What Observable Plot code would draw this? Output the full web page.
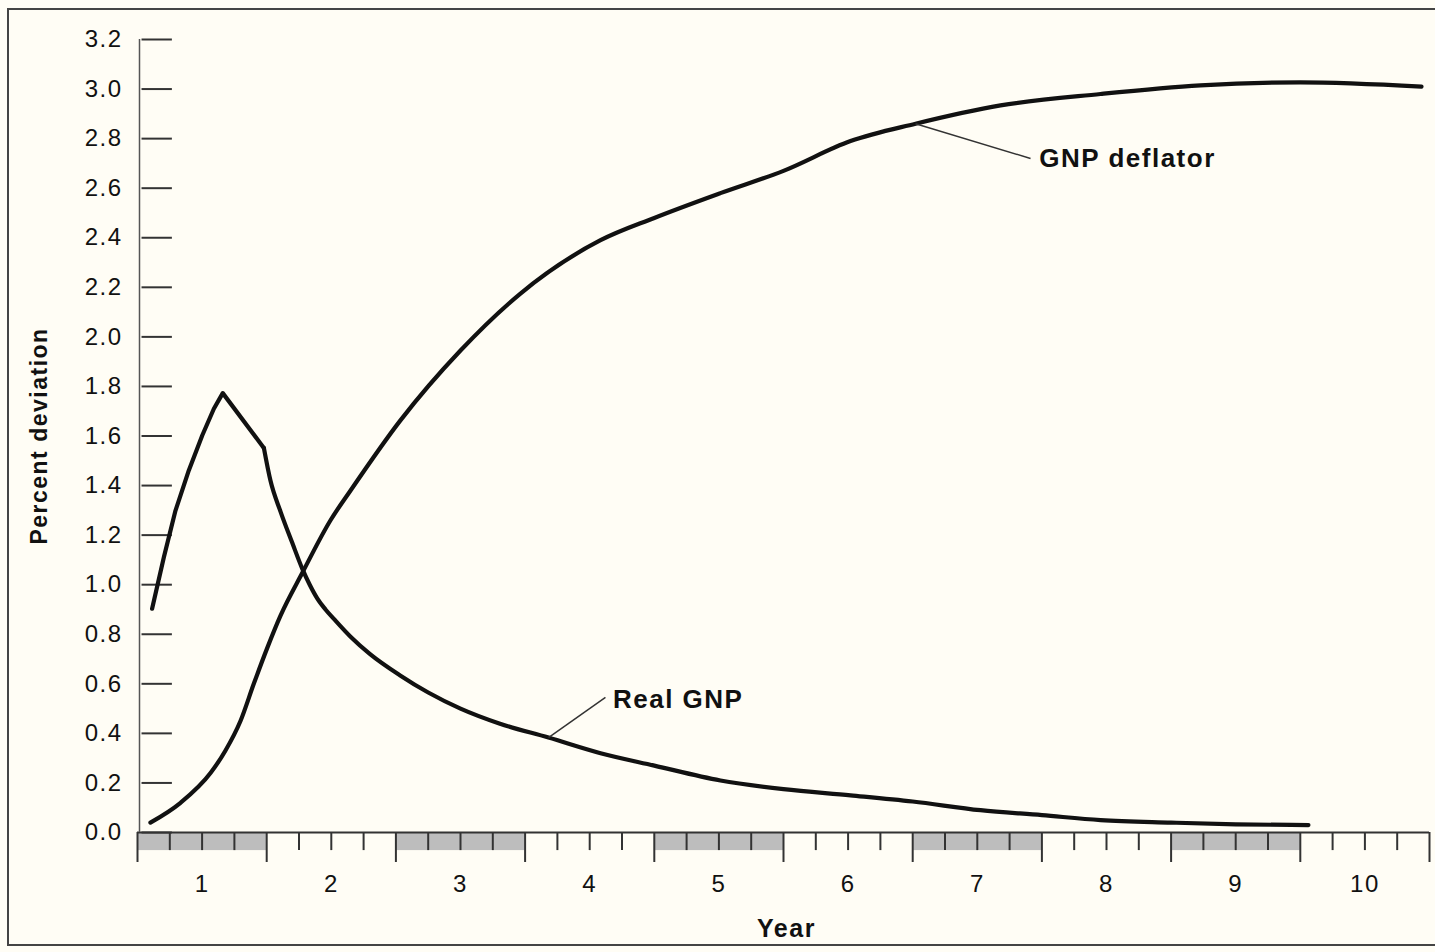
<!DOCTYPE html>
<html>
<head>
<meta charset="utf-8">
<script src="https://cdn.jsdelivr.net/npm/d3@7"></script>
<script src="https://cdn.jsdelivr.net/npm/@observablehq/plot@0.6"></script>
<style>
  html, body { margin: 0; padding: 0; background: #fffdf5; }
  #wrap { position: relative; width: 1435px; height: 952px; overflow: hidden; }
  #border { position: absolute; left: 7px; top: 8px; width: 1460px; height: 938px; border: 2px solid #444; box-sizing: border-box; pointer-events: none; }
</style>
</head>
<body>
<div id="wrap"><div id="border"></div></div>
<script>
// Years (x axis labels) and quarter ticks
const yearLabels = [1, 2, 3, 4, 5, 6, 7, 8, 9, 10];
const shadedYears = [1, 3, 5, 7, 9];
const yTicks = [0, 0.2, 0.4, 0.6, 0.8, 1.0, 1.2, 1.4, 1.6, 1.8, 2.0, 2.2, 2.4, 2.6, 2.8, 3.0, 3.2];

// Real GNP (x in years since shock, percent deviation)
// rising part up to the kink (drawn straight), then the smooth decay
const realRiseX = [0.113, 0.204, 0.294, 0.397, 0.501, 0.591, 0.66, 0.978];
const realRise = [0.903, 1.111, 1.299, 1.461, 1.602, 1.710, 1.773, 1.552];
const realFallX = [0.978, 1.029, 1.107, 1.197, 1.275, 1.333, 1.391, 1.455, 1.52, 1.649, 1.8, 2.03, 2.25, 2.5, 2.8, 3.181, 3.584, 4.0, 4.512, 5.0, 5.519, 6.0, 6.525, 7.0, 7.454, 8.0, 8.5, 9.063];
const realFall = [1.552, 1.42, 1.295, 1.17, 1.065, 1.0, 0.945, 0.9, 0.862, 0.79, 0.72, 0.635, 0.565, 0.50, 0.44, 0.383, 0.32, 0.27, 0.21, 0.175, 0.15, 0.125, 0.09, 0.07, 0.05, 0.04, 0.033, 0.03];

// GNP deflator
const deflX = [0.1, 0.333, 0.565, 0.68, 0.797, 0.9, 1.006, 1.107, 1.277, 1.494, 1.649, 2.035, 2.5, 2.964, 3.584, 4.0, 4.512, 5.0, 5.519, 6.022, 6.68, 7.454, 8.227, 9.0, 9.938];
const gnpDeflator = [0.04, 0.12, 0.24, 0.33, 0.45, 0.6, 0.747, 0.875, 1.049, 1.26, 1.38, 1.663, 1.945, 2.175, 2.39, 2.48, 2.58, 2.67, 2.79, 2.86, 2.934, 2.98, 3.015, 3.027, 3.01];

const riseData = realRiseX.map((x, i) => ({x, y: realRise[i]}));
const fallData = realFallX.map((x, i) => ({x, y: realFall[i]}));
const deflData = deflX.map((x, i) => ({x, y: gnpDeflator[i]}));
const quarterTicks = d3.range(0, 41).filter(q => q % 4 !== 0).map(q => q / 4);
const yearBounds = d3.range(0, 11);

const font = "'Liberation Sans', Arial, Helvetica, sans-serif";

const chart = Plot.plot({
  width: 1435,
  height: 952,
  marginLeft: 137,
  marginRight: 6,
  marginTop: 39,
  marginBottom: 120,
  x: {domain: [0, 10], axis: null},
  y: {domain: [0, 3.2], axis: null},
  style: {background: "transparent", fontFamily: font, color: "#111", letterSpacing: "1.5px", overflow: "visible"},
  marks: [
    // shaded bands for alternate years below axis
    Plot.rect(shadedYears, {x1: d => d - 1, x2: d => d, y1: 0, y2: -0.073, fill: "#bdbdbd"}),
    Plot.ruleX(quarterTicks, {y1: 0, y2: -0.073, stroke: "#333", strokeWidth: 2}),
    Plot.ruleX(yearBounds, {y1: 0, y2: -0.121, stroke: "#333", strokeWidth: 2}),
    Plot.ruleY([0], {x1: 0, x2: 10, stroke: "#333", strokeWidth: 2}),
    // y axis line and inward ticks
    Plot.ruleX([0], {y1: 0, y2: 3.2, stroke: "#555", strokeWidth: 1.5, dx: 2}),
    Plot.ruleY(yTicks, {x1: 0.035, x2: 0.27, stroke: "#333", strokeWidth: 2}),
    Plot.axisY({ticks: yTicks, tickSize: 0, tickPadding: 15, tickFormat: d => d.toFixed(1), fontSize: 24, anchor: "left", label: null}),
    Plot.axisX({ticks: yearLabels.map(d => d - 0.5), tickSize: 0, tickPadding: 42, tickFormat: d => String(Math.round(d + 0.5)), fontSize: 24, anchor: "bottom", label: null}),
    Plot.text(["Percent deviation"], {frameAnchor: "left", textAnchor: "middle", dx: -98, rotate: -90, fontSize: 23, fontWeight: "bold", fill: "#111"}),
    Plot.text(["Year"], {frameAnchor: "bottom", dx: 3, dy: 104, fontSize: 25, fontWeight: "bold", fill: "#111"}),
    // curves
    Plot.line(deflData, {x: "x", y: "y", curve: "monotone-x", stroke: "#111", strokeWidth: 4.2}),
    Plot.line(riseData, {x: "x", y: "y", curve: "linear", stroke: "#111", strokeWidth: 4.2, strokeLinejoin: "round"}),
    Plot.line(fallData, {x: "x", y: "y", curve: "monotone-x", stroke: "#111", strokeWidth: 4.2}),
    // annotations
    Plot.link([{x1: 6.022, y1: 2.86, x2: 6.912, y2: 2.72}], {x1: "x1", y1: "y1", x2: "x2", y2: "y2", stroke: "#333", strokeWidth: 1.5}),
    Plot.text(["GNP deflator"], {x: 6.98, y: 2.72, textAnchor: "start", fontSize: 26, fontWeight: "bold", fill: "#111"}),
    Plot.link([{x1: 3.181, y1: 0.383, x2: 3.622, y2: 0.545}], {x1: "x1", y1: "y1", x2: "x2", y2: "y2", stroke: "#333", strokeWidth: 1.5}),
    Plot.text(["Real GNP"], {x: 3.68, y: 0.538, textAnchor: "start", fontSize: 26, fontWeight: "bold", fill: "#111"})
  ]
});
document.getElementById("wrap").appendChild(chart);
</script>
</body>
</html>
